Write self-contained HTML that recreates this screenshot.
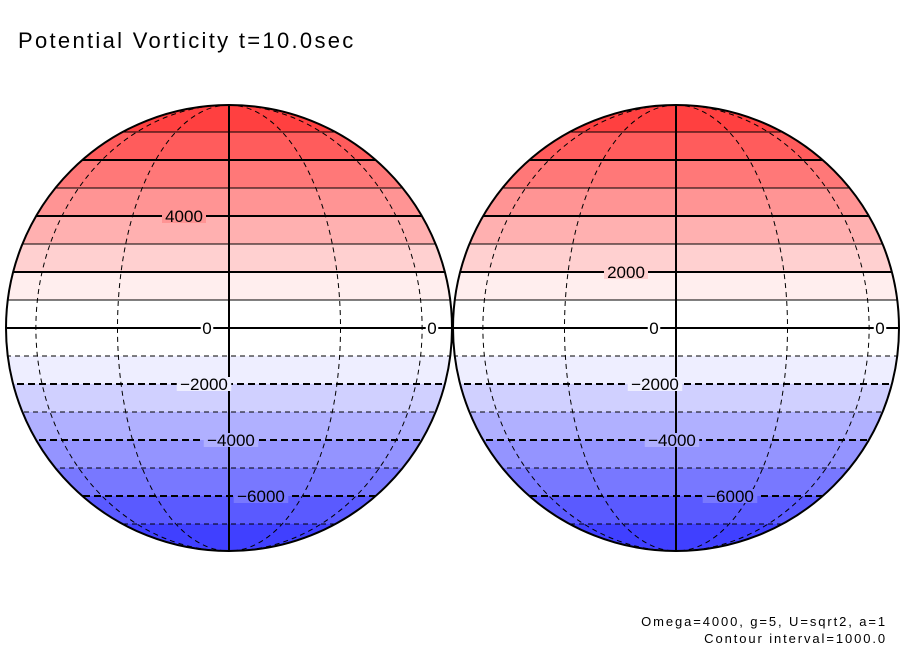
<!DOCTYPE html>
<html><head><meta charset="utf-8">
<style>
html,body{margin:0;padding:0;background:#fff;}
body{width:904px;height:654px;overflow:hidden;font-family:"Liberation Sans",sans-serif;}
</style></head>
<body>
<svg id="chart" width="904" height="654" viewBox="0 0 904 654" xmlns="http://www.w3.org/2000/svg">
<text x="18" y="48" font-size="22" letter-spacing="2.3" font-family="Liberation Sans, sans-serif" fill="#000">Potential Vorticity t=10.0sec</text>
<text x="887" y="626" font-size="13" letter-spacing="1.9" text-anchor="end" font-family="Liberation Sans, sans-serif">Omega=4000, g=5, U=sqrt2, a=1</text>
<text x="887" y="643" font-size="13" letter-spacing="1.9" text-anchor="end" font-family="Liberation Sans, sans-serif">Contour interval=1000.0</text>
</svg>
<script>
// data
const levels = [-7000,-6000,-5000,-4000,-3000,-2000,-1000,0,1000,2000,3000,4000,5000,6000,7000];
const bandLow = [-9000,-7000,-6000,-5000,-4000,-3000,-2000,-1000,0,1000,2000,3000,4000,5000,6000,7000];
const bandColors = ['#4040ff','#5a5aff','#7878ff','#9494ff','#b0b0ff','#d0d0ff','#eeeeff','#ffffff','#ffffff','#ffeeee','#ffd0d0','#ffb0b0','#ff9494','#ff7878','#ff5c5c','#ff4040'];
const meridians = [-60,-30,30,60];
const globes = [
  {cx:229, labels:[{v:4000,x:184},{v:0,x:207},{v:0,x:432},{v:-2000,x:204},{v:-4000,x:231},{v:-6000,x:261}]},
  {cx:676, labels:[{v:2000,x:626},{v:0,x:654},{v:0,x:880},{v:-2000,x:655},{v:-4000,x:672},{v:-6000,x:730}]}
];
const cy = 328, R = 223, pxPer1000 = 28;
function yOf(v){ return cy - v/1000*pxPer1000; }

const svg = document.getElementById('chart');
const NS = 'http://www.w3.org/2000/svg';
function mk(tag, attrs){ const e = document.createElementNS(NS, tag); for (const k in attrs) e.setAttribute(k, attrs[k]); return e; }

globes.forEach((g, gi) => {
  const grp = mk('g', {});
  
  
  svg.appendChild(grp);
  const clipId = 'clip' + gi;
  const defs = mk('defs', {});
  const cp = mk('clipPath', {id: clipId});
  cp.appendChild(mk('circle', {cx:g.cx, cy:cy, r:R}));
  defs.appendChild(cp); grp.appendChild(defs);
  const inner = mk('g', {'clip-path':'url(#'+clipId+')'});
  grp.appendChild(inner);
  for (let i = 0; i < bandLow.length; i++) {
    const lo = bandLow[i], hi = (i+1 < bandLow.length) ? bandLow[i+1] : 9000;
    const r = mk('rect', {x:g.cx-R, y:yOf(hi), width:2*R, height:yOf(lo)-yOf(hi), fill:bandColors[i]});
    
    
    inner.appendChild(r);
  }
  meridians.forEach(m => {
    const rx = R*Math.abs(Math.sin(m*Math.PI/180));
    const side = m < 0 ? 0 : 1;
    const d = `M ${g.cx} ${cy-R} A ${rx} ${R} 0 0 ${side} ${g.cx} ${cy+R}`;
    const p = mk('path', {d:d, fill:'none', stroke:'#000', 'stroke-width':1, 'stroke-dasharray':'5,4'});
    
    
    inner.appendChild(p);
  });
  levels.forEach(v => {
    const y = yOf(v);
    const thick = (v % 2000 === 0);
    const l = mk('line', {x1:g.cx-R, x2:g.cx+R, y1:y, y2:y, stroke:'#000', 'stroke-width': thick ? 2 : 1});
    if (v < 0) l.setAttribute('stroke-dasharray', thick ? '7,4' : '5,4');
    
    
    inner.appendChild(l);
  });
  const cm = mk('line', {x1:g.cx, x2:g.cx, y1:cy-R, y2:cy+R, stroke:'#000', 'stroke-width':2});
  
  
  inner.appendChild(cm);
  g.labels.forEach(lb => {
    const y = yOf(lb.v);
    const txt = lb.v < 0 ? '\u2212' + Math.abs(lb.v) : String(lb.v);
    const w = txt.length * 10.5;
    const bi = bandLow.findIndex((b,i)=>lb.v>=b && (i+1===bandLow.length||lb.v<bandLow[i+1]));
    const bg = mk('rect', {x:lb.x - w/2 - 1, y:y-7, width:w+2, height:14, fill:bandColors[bi]});
    inner.appendChild(bg);
    const t = mk('text', {x:lb.x, y:y+6, 'font-size':17, 'text-anchor':'middle', 'font-family':'Liberation Sans, sans-serif'});
    t.textContent = txt;
    
    
    inner.appendChild(t);
  });
  const c = mk('circle', {cx:g.cx, cy:cy, r:R, fill:'none', stroke:'#000', 'stroke-width':2});
  
  
  grp.appendChild(c);
});
</script>
</body></html>
